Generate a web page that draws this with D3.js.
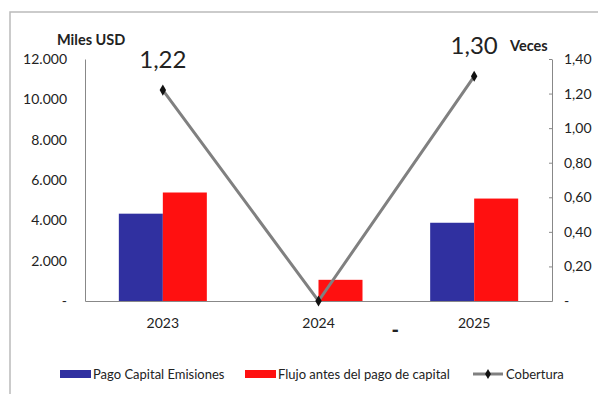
<!DOCTYPE html>
<html>
<head>
<meta charset="utf-8">
<script src="https://d3js.org/d3.v7.min.js"></script>
<style>
  body { margin: 0; background: #fff; }
  svg text { font-family: Lato, "Open Sans", sans-serif; fill: #222; }
</style>
</head>
<body>
<svg width="598" height="394"></svg>
<script>
// data
var years = ["2023", "2024", "2025"];
var pagoCapital = [4330, 0, 3880];
var flujoAntes = [5380, 1050, 5080];
var cobertura = [1.22, 0, 1.30];
var leftTicks = [0, 2000, 4000, 6000, 8000, 10000, 12000];
var rightTicks = [0, 0.2, 0.4, 0.6, 0.8, 1.0, 1.2, 1.4];

var svg = d3.select("svg"),
    margin = {top: 59, left: 85, right: 46, bottom: 93},
    width = 598 - margin.left - margin.right,
    height = 394 - margin.top - margin.bottom;

// outer frame (only top and left edges visible)
svg.append("path")
    .attr("d", "M10,394 L10,12 L598,12")
    .attr("fill", "none")
    .attr("stroke", "#bbb")
    .attr("stroke-width", 1.5);

var g = svg.append("g").attr("transform", "translate(" + margin.left + "," + margin.top + ")");

var x = d3.scaleBand().domain(years).range([0, width]);
var x1 = d3.scaleBand().domain([0, 1]).range([0, 88]);
var y = d3.scaleLinear().domain([0, 12000]).range([height, 0]);
var y2 = d3.scaleLinear().domain([0, 1.4]).range([height, 0]);

var fmtL = function(d) { return d === 0 ? "-" : d3.format(",")(d).replace(/,/g, "."); };
var fmtR = function(d) { return d === 0 ? "-" : d3.format(".2f")(d).replace(".", ","); };

// bars
var series = [pagoCapital, flujoAntes];
var colors = ["#3030a0", "#ff1010"];
series.forEach(function(s, k) {
  g.selectAll(".bar" + k)
    .data(s)
    .enter().append("rect")
      .attr("x", function(d, i) { return x(years[i]) + x.bandwidth() / 2 - 44 + x1(k); })
      .attr("width", x1.bandwidth())
      .attr("y", function(d) { return y(d); })
      .attr("height", function(d) { return height - y(d); })
      .attr("fill", colors[k]);
});

// left axis
var la = g.append("g")
    .call(d3.axisLeft(y).tickValues(leftTicks).tickFormat(fmtL).tickSize(0).tickPadding(18));
la.select(".domain").attr("stroke", "#888");
la.selectAll("text").style("font-size", "14px").attr("fill", "#222");

// right axis
var ra = g.append("g")
    .attr("transform", "translate(" + width + ",0)")
    .call(d3.axisRight(y2).tickValues(rightTicks).tickFormat(fmtR).tickSizeInner(-3).tickSizeOuter(0).tickPadding(12));
ra.select(".domain").attr("stroke", "#888");
ra.selectAll("line").attr("stroke", "#888");
ra.selectAll("text").style("font-size", "14px").attr("fill", "#222");

// bottom axis
var ba = g.append("g")
    .attr("transform", "translate(0," + height + ")")
    .call(d3.axisBottom(x).tickSize(0).tickPadding(17));
ba.select(".domain").attr("stroke", "#888");
ba.selectAll("text").style("font-size", "14px").attr("fill", "#222");

// stray dash under the axis
g.append("text")
    .attr("x", (x("2024") + x("2025")) / 2 + x.bandwidth() / 2 - 1)
    .attr("y", height + 36)
    .attr("text-anchor", "middle")
    .style("font-size", "20px")
    .style("font-weight", "900")
    .text("-");

// coverage line
var line = d3.line()
    .x(function(d, i) { return x(years[i]) + x.bandwidth() / 2; })
    .y(function(d) { return y2(d); });
g.append("path")
    .datum(cobertura)
    .attr("d", line)
    .attr("fill", "none")
    .attr("stroke", "#808080")
    .attr("stroke-width", 3);
g.selectAll(".pt")
    .data(cobertura)
    .enter().append("path")
      .attr("transform", function(d, i) { return "translate(" + (x(years[i]) + x.bandwidth() / 2) + "," + y2(d) + ")"; })
      .attr("d", d3.symbol().type(d3.symbolDiamond).size(36))
      .attr("fill", "#111");

// value labels
[0, 2].forEach(function(i) {
  g.append("text")
    .attr("x", x(years[i]) + x.bandwidth() / 2)
    .attr("y", y2(cobertura[i]) - 22)
    .attr("text-anchor", "middle")
    .style("font-size", "24px")
    .text(fmtR(cobertura[i]));
});

// axis titles
svg.append("text").attr("x", 57).attr("y", 45)
    .style("font-size", "14.5px").style("font-weight", "bold").text("Miles USD");
svg.append("text").attr("x", 510).attr("y", 51)
    .style("font-size", "14.5px").style("font-weight", "bold").text("Veces");

// legend
var ly = 374;
var legend = [
  {label: "Pago Capital Emisiones", color: colors[0], x: 60, type: "rect"},
  {label: "Flujo antes del pago de capital", color: colors[1], x: 245, type: "rect"},
  {label: "Cobertura", color: "#808080", x: 473, type: "line"}
];
legend.forEach(function(l) {
  if (l.type === "rect") {
    svg.append("rect").attr("x", l.x).attr("y", ly - 4).attr("width", 31).attr("height", 8).attr("fill", l.color);
  } else {
    svg.append("line").attr("x1", l.x).attr("x2", l.x + 30).attr("y1", ly).attr("y2", ly)
      .attr("stroke", l.color).attr("stroke-width", 3);
    svg.append("path").attr("transform", "translate(" + (l.x + 15) + "," + ly + ")")
      .attr("d", d3.symbol().type(d3.symbolDiamond).size(30)).attr("fill", "#111");
  }
  svg.append("text").attr("x", l.x + 33).attr("y", ly + 5)
    .style("font-size", "13px").text(l.label);
});
</script>
</body>
</html>
